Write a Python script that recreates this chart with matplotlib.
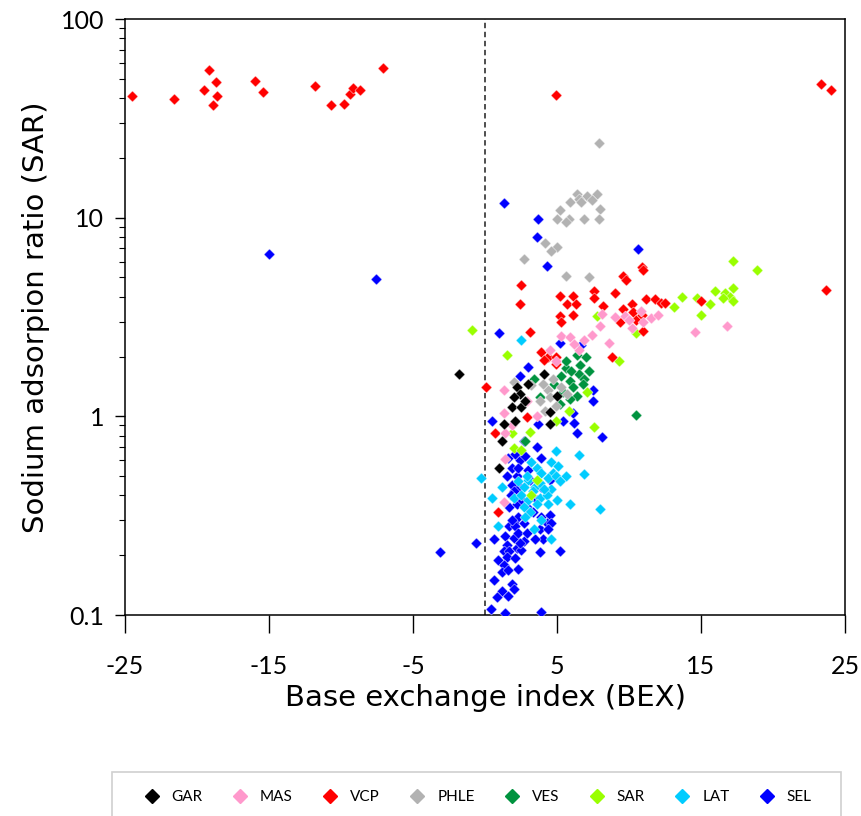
import matplotlib
matplotlib.use("Agg")
import matplotlib.pyplot as plt
from matplotlib.lines import Line2D
from matplotlib.patches import Rectangle
from matplotlib.ticker import LogLocator, NullFormatter

# groups in legend order
groups = ['GAR', 'MAS', 'VCP', 'PHLE', 'VES', 'SAR', 'LAT', 'SEL']
colors = ['#000000', '#FF99CC', '#FF0000', '#B2B2B2', '#00933F', '#99FF00', '#00CCFF', '#0000FF']

gar_bex = [-1.8, 2.2, 2.4, 2.0, 1.9, 2.5, 2.1, 1.3, 4.1, 5.0, 4.5, 4.5, 1.2, 1.0, 2.8, 3.0]
gar_sar = [1.64, 1.40, 1.30, 1.25, 1.12, 1.11, 0.95, 0.92, 1.64, 1.27, 1.05, 0.91, 0.75, 0.55, 1.20, 1.45]

mas_bex = [8.1, 9.0, 5.3, 5.9, 6.9, 7.4, 8.0, 8.6, 6.5, 4.5, 9.7, 10.2, 10.0, 10.8, 11.0,
           11.5, 12.0, 14.6, 16.8, 1.3, 2.9, 1.3, 1.9, 3.6, 1.4, 1.4, 1.3, 4.9, 6.2]
mas_sar = [3.29, 3.16, 2.54, 2.52, 2.42, 2.57, 2.86, 2.33, 2.15, 2.15, 3.19, 2.78, 3.04, 3.38, 2.97,
           3.12, 3.25, 2.67, 2.85, 1.35, 1.20, 1.04, 0.90, 1.00, 0.82, 0.61, 0.37, 1.90, 2.30]

vcp_bex = [-24.5, -21.6, -19.5, -19.2, -18.7, -18.6, -18.9, -16.0, -15.4, -11.8, -10.7, -9.8,
           -9.4, -9.2, -8.7, -7.1,
           4.9, 23.3, 24.0, 23.7, 2.5, 2.4, 3.1, 5.2, 6.1, 5.7, 6.3, 6.1, 5.2, 5.3,
           7.6, 7.6, 8.2, 9.0, 9.6, 9.6, 10.2, 10.3, 8.8, 3.9, 4.4, 4.9, 4.9, 4.1,
           10.9, 11.0, 9.8, 11.2, 11.8, 12.2, 12.5, 9.4, 10.5, 10.9, 11.0, 15.0,
           0.1, 0.7, 2.9, 0.9]
vcp_sar = [40.8, 39.8, 43.9, 55.7, 48.0, 40.8, 37.0, 48.7, 42.8, 46.1, 37.0, 37.5,
           42.0, 44.9, 43.9, 56.4,
           41.4, 47.3, 44.0, 4.3, 4.6, 3.66, 2.67, 4.04, 4.04, 3.66, 3.66, 3.25, 3.21, 2.97,
           4.27, 3.96, 3.59, 4.16, 5.06, 3.47, 3.66, 3.34, 2.0, 2.11, 1.99, 2.0, 1.83, 1.92,
           5.62, 5.45, 4.87, 3.88, 3.88, 3.70, 3.73, 2.97, 3.06, 3.25, 2.70, 3.80,
           1.40, 0.82, 0.99, 0.33]

phle_bex = [7.9, 6.4, 7.1, 7.8, 6.5, 5.9, 6.7, 7.4, 8.0, 5.2, 5.0, 5.8, 5.6, 6.9, 7.9, 4.2,
            5.0, 4.6, 2.7, 5.6, 7.2, 2.0, 3.2, 4.7, 4.4, 4.5, 3.8, 5.3, 4.2, 4.9, 5.7, 4.0]
phle_sar = [23.8, 13.1, 12.8, 13.1, 12.4, 12.0, 12.0, 12.3, 11.0, 10.9, 9.9, 9.9, 9.5, 9.8, 9.8, 7.5,
            7.1, 6.8, 6.2, 5.06, 5.0, 1.49, 1.43, 1.54, 1.35, 1.25, 1.20, 1.40, 1.06, 1.13, 1.30, 1.45]

ves_bex = [6.4, 7.0, 5.6, 6.6, 3.4, 5.9, 6.5, 6.9, 6.1, 5.4, 6.4, 5.9, 3.8, 5.2, 10.5,
           2.8, 6.0, 5.3, 6.8, 7.2, 4.8, 5.6]
ves_sar = [2.03, 2.0, 1.76, 1.81, 1.54, 1.51, 1.64, 1.54, 1.40, 1.32, 1.27, 1.22, 1.25, 1.15, 1.02,
           0.75, 1.70, 1.60, 1.45, 1.70, 1.45, 1.90]

sar_bex = [-0.9, 1.5, 7.8, 9.3, 10.5, 7.1, 4.9, 5.8, 3.1, 7.6, 1.9, 2.0, 2.5, 3.6, 3.2,
           13.1, 13.7, 14.7, 15.0, 15.6, 16.0, 16.7, 17.0, 17.2, 17.2, 16.5, 17.2, 18.9]
sar_sar = [2.71, 2.03, 3.19, 1.90, 2.64, 1.32, 0.95, 1.06, 0.83, 0.88, 0.82, 0.69, 0.68, 0.48, 0.40,
           3.56, 3.99, 3.96, 3.25, 3.67, 4.28, 4.16, 4.0, 3.80, 4.44, 3.96, 6.08, 5.47]

lat_bex = [2.5, 4.9, 6.5, 3.2, 4.6, 5.1, 3.6, 3.9, 4.7, 4.4, 4.9, 5.6, 6.9, 3.0, -0.3,
           1.2, 5.2, 2.7, 3.5, 4.6, 2.0, 0.5, 2.5, 3.0, 3.8, 4.3, 5.0, 5.9, 8.0, 4.4,
           2.7, 3.1, 0.9, 3.4, 4.6, 3.3, 3.8, 2.9, 4.1, 3.6, 2.3, 2.8, 3.9]
lat_sar = [2.42, 0.67, 0.64, 0.59, 0.59, 0.56, 0.55, 0.52, 0.52, 0.49, 0.50, 0.50, 0.51, 0.48, 0.49,
           0.44, 0.47, 0.44, 0.44, 0.43, 0.39, 0.39, 0.40, 0.38, 0.39, 0.40, 0.38, 0.36, 0.34, 0.36,
           0.35, 0.33, 0.28, 0.27, 0.24, 0.42, 0.46, 0.50, 0.43, 0.36, 0.47, 0.31, 0.30]

sel_bex = [-15.0, -7.6, -3.1, 1.3, 3.7, 3.6, 4.3, 10.6, 1.0, 6.7, 3.0, 5.2, 2.4, 7.5, 7.5,
           6.1, 6.2, 5.4, 3.7, 0.5, 6.4, 8.1, 2.7, 3.6, 2.4, 1.9, 3.0, 1.5, 2.2, 3.1,
           1.9, 2.4, 3.9, 4.5, 1.7, 2.2, 2.3, 2.9, 3.9, 4.5, 4.3, 2.0, 2.7, 3.6, -0.6,
           0.6, 1.4, 1.7, 2.1, 2.0, 2.3, 2.7, 1.5, 1.3, 1.7, 2.2, 2.5, 0.9, 1.5, 2.1,
           2.3, 1.3, 1.2, 1.6, 0.6, 1.9, 2.0, 1.2, 0.8, 1.6, 0.4, 1.4, 3.9, 3.8, 5.2,
           4.0, 3.5, 4.6, 3.8, 4.4, 2.0, 2.6, 2.3, 1.8, 3.3, 2.9, 2.4, 1.9, 1.6, 2.1,
           2.8, 3.9]
sel_sar = [6.57, 4.94, 0.207, 11.9, 9.9, 8.0, 5.74, 6.97, 2.62, 2.28, 1.77, 2.33, 1.59, 1.35, 1.20,
           1.04, 0.93, 0.95, 0.91, 0.95, 0.82, 0.79, 0.75, 0.70, 0.60, 0.55, 0.54, 0.50, 0.50, 0.48,
           0.45, 0.44, 0.44, 0.48, 0.35, 0.36, 0.31, 0.35, 0.31, 0.32, 0.29, 0.29, 0.29, 0.38, 0.23,
           0.24, 0.25, 0.28, 0.28, 0.245, 0.26, 0.235, 0.226, 0.21, 0.21, 0.217, 0.213, 0.19, 0.196, 0.194,
           0.171, 0.178, 0.165, 0.168, 0.150, 0.143, 0.135, 0.132, 0.123, 0.125, 0.107, 0.102, 0.103, 0.207, 0.209,
           0.24, 0.24, 0.29, 0.27, 0.27, 0.42, 0.38, 0.55, 0.40, 0.33, 0.26, 0.23, 0.30, 0.62, 0.65,
           0.63, 0.62]

bex_all = [gar_bex, mas_bex, vcp_bex, phle_bex, ves_bex, sar_bex, lat_bex, sel_bex]
sar_all = [gar_sar, mas_sar, vcp_sar, phle_sar, ves_sar, sar_sar, lat_sar, sel_sar]

xticks = [-25, -15, -5, 5, 15, 25]
yticks = [0.1, 1, 10, 100]
ylabels = ['0.1', '1', '10', '100']

tickfont = 'Lato'

fig = plt.figure(figsize=(8.61, 8.16), dpi=100)
ax = fig.add_axes([0.1452, 0.2463, 0.8362, 0.7304])

# first group ends up on top
for i in range(len(groups) - 1, -1, -1):
    ax.scatter(bex_all[i], sar_all[i], marker='D', s=32, color=colors[i],
               edgecolors='white', linewidths=0.3, zorder=3 + (len(groups) - i))

ax.axvline(0, color='#404040', lw=1.3, linestyle=(0, (3, 2)), zorder=2)

ax.set_yscale('log')
ax.set_xlim(-25, 25)
ax.set_ylim(0.1, 100)
ax.set_xticks(xticks)
ax.set_xticklabels([str(t) for t in xticks], fontfamily=tickfont, fontsize=18)
ax.set_yticks(yticks)
ax.set_yticklabels(ylabels, fontfamily=tickfont, fontsize=18)
ax.yaxis.set_minor_locator(LogLocator(base=10, subs=range(2, 10)))
ax.yaxis.set_minor_formatter(NullFormatter())
ax.tick_params(axis='x', direction='out', length=13, width=1, pad=16)
ax.tick_params(axis='y', which='major', direction='out', length=7, width=1, pad=8)
ax.tick_params(axis='y', which='minor', direction='out', length=4, width=0.8)
for sp in ax.spines.values():
    sp.set_linewidth(1.1)

ax.set_xlabel('Base exchange index (BEX)', fontsize=21, labelpad=4)
ax.set_ylabel('Sodium adsorpion ratio (SAR)', fontsize=21, labelpad=8)

handles = [Line2D([], [], marker='D', color=c, linestyle='None', markersize=7) for c in colors]
fig.legend(handles, groups, loc='center', bbox_to_anchor=(478 / 861, 1 - 797 / 816),
           ncol=8, frameon=False, prop={'family': tickfont, 'size': 11},
           handlelength=1.0, handletextpad=0.8, columnspacing=1.95)
fig.patches.append(Rectangle((112 / 861, -0.02), 729 / 861, 0.02 + 1 - 772 / 816,
                             transform=fig.transFigure, fill=False,
                             edgecolor='#D0D0D0', lw=1.2))

fig.savefig('out.png', dpi=100)
